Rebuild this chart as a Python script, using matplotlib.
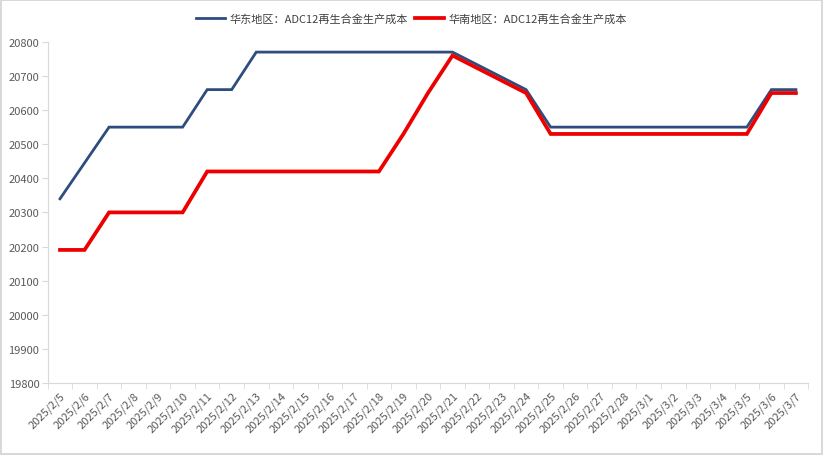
import matplotlib
matplotlib.use("Agg")
import matplotlib.pyplot as plt
import matplotlib.dates as mdates
import pandas as pd

plt.rcParams['font.family'] = ['Noto Sans CJK SC', 'DejaVu Sans']

# trading days only (weekends have no data, the line just joins across them)
dates = ['2025-02-05', '2025-02-06', '2025-02-07', '2025-02-10', '2025-02-11',
         '2025-02-12', '2025-02-13', '2025-02-14', '2025-02-17', '2025-02-18',
         '2025-02-19', '2025-02-20', '2025-02-21', '2025-02-24', '2025-02-25',
         '2025-02-26', '2025-02-27', '2025-02-28', '2025-03-03', '2025-03-04',
         '2025-03-05', '2025-03-06', '2025-03-07']
east = [20340, 20445, 20550, 20550, 20660, 20660, 20770, 20770, 20770, 20770,
        20770, 20770, 20770, 20660, 20550, 20550, 20550, 20550, 20550, 20550,
        20550, 20660, 20660]
south = [20190, 20190, 20300, 20300, 20420, 20420, 20420, 20420, 20420, 20420,
         20530, 20650, 20760, 20650, 20530, 20530, 20530, 20530, 20530, 20530,
         20530, 20650, 20650]
east_name = '华东地区：ADC12再生合金生产成本'
south_name = '华南地区：ADC12再生合金生产成本'

x = pd.to_datetime(dates)
all_days = pd.date_range(x[0], x[-1], freq='D')

fig = plt.figure(figsize=(8.23, 4.56), dpi=100, linewidth=1.5, edgecolor='#d9d9d9')
ax = fig.add_axes([0.058, 0.158, 0.924, 0.748])

ax.plot(x, east, color='#2e4c7e', lw=2, label=east_name, solid_joinstyle='miter')
ax.plot(x, south, color='#ee0000', lw=2.7, label=south_name, solid_joinstyle='miter')

xnum = mdates.date2num(all_days)
ax.set_xlim(xnum[0] - 0.5, xnum[-1] + 0.5)
ax.set_ylim(19800, 20800)
ax.set_yticks(range(19800, 20801, 100))

ax.set_xticks(xnum)
ax.set_xticklabels([f"{d.year}/{d.month}/{d.day}" for d in all_days],
                   rotation=45, ha='right', rotation_mode='anchor')
ax.set_xticks([v - 0.5 for v in xnum] + [xnum[-1] + 0.5], minor=True)
ax.tick_params(axis='x', which='major', length=0, pad=5, labelsize=8, labelcolor='#595959')
ax.tick_params(axis='x', which='minor', length=4, color='#d9d9d9')
ax.tick_params(axis='y', length=4, color='#d9d9d9', labelsize=8, labelcolor='#595959', pad=2)

for s in ['top', 'right']:
    ax.spines[s].set_visible(False)
for s in ['left', 'bottom']:
    ax.spines[s].set_color('#d9d9d9')

leg = fig.legend(loc='upper center', bbox_to_anchor=(0.5, 0.99), ncol=2, frameon=False,
                 fontsize=8, handlelength=2.6, columnspacing=0.6, handletextpad=0.4)
for t in leg.get_texts():
    t.set_color('#404040')

fig.savefig('out.png', dpi=100)
